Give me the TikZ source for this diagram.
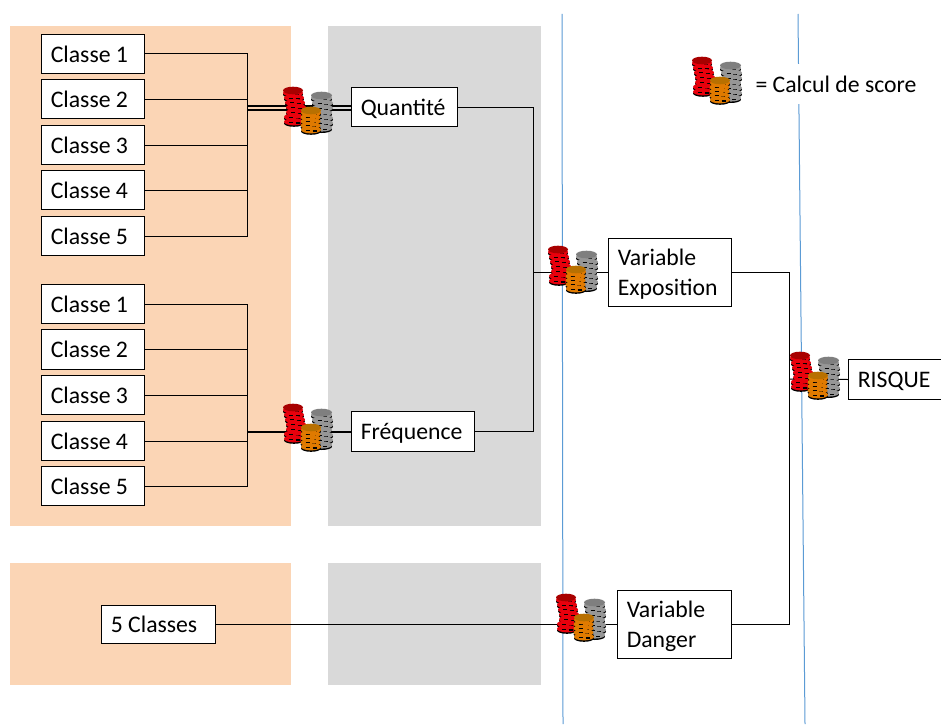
\documentclass[tikz,border=0pt]{standalone}
\usepackage{fontspec}
\setmainfont{Carlito}
\definecolor{peach}{HTML}{FBD5B5}
\definecolor{greybg}{HTML}{D9D9D9}
\definecolor{bluel}{HTML}{5B9BD5}
\definecolor{redc}{HTML}{E8000C}
\definecolor{redt}{HTML}{A80000}
\definecolor{greyc}{HTML}{969696}
\definecolor{greyt}{HTML}{7F7F7F}
\definecolor{orc}{HTML}{E07A00}
\definecolor{ort}{HTML}{B87000}
\newcommand{\coinstack}[8]{% x, y-top, half width, disc step, fill, top fill, jitter list, top jitter
  \foreach \jx [count=\ji from 0] in {#7}{
    \pgfmathsetmacro{\yy}{#2+3+\ji*#4}
    \pgfmathsetmacro{\xx}{#1+\jx+#3}
    \fill[black] (\xx,\yy+4.6) ellipse [x radius=#3,y radius=3.4];
    \fill[#5] (\xx,\yy+3) ellipse [x radius=#3,y radius=3.6];
    \draw[black,line width=0.8pt] (\xx-5,\yy+3.3) -- (\xx-1,\yy+3.3) (\xx+1.5,\yy+4.2) -- (\xx+5.5,\yy+4.2);
  }
  \fill[#6] ({#1+(#8)+#3},{#2+3.5}) ellipse [x radius=#3,y radius=3.8];
}
\tikzset{
  x=0.75pt,y=-0.75pt,
  coinpic/.pic={
    \coinstack{0}{0}{10}{4.8}{redc}{redt}{0,1,2,3,3,1,1}{0}
    \coinstack{28}{5}{10.5}{5}{greyc}{greyt}{0,1,1,0,1,1,0}{0}
    \coinstack{18}{20}{10}{4.2}{orc}{ort}{0,-0.5,-0.5,-0.5,0}{0}
  },
  box/.style={draw=black,line width=0.75pt,fill=white,inner sep=0pt},
  wire/.style={draw=black,line width=0.75pt},
  twin wire/.style={draw=black,line width=1pt},
  thick wire/.style={draw=black,line width=1.5pt},
  lbl/.style={font=\fontsize{17.8}{22.5}\selectfont,inner sep=0pt},
}
\newcommand{\pbox}[6]{% name x1 y1 x2 y2 text
  \node[box,minimum width={(#4-#2)*0.75pt},minimum height={(#5-#3)*0.75pt},anchor=north west] (#1) at (#2,#3) {};
  \node[lbl,anchor=west,align=left] (#1t) at (#2+9.5,{(#3+#5)/2+2.7}) {#6};
}
\begin{document}
\begin{tikzpicture}
\useasboundingbox (0,0) rectangle (941,724);
\fill[white] (0,0) rectangle (941,724);
\fill[peach] (10,26) rectangle (291,526);
\fill[peach] (10,563) rectangle (291,685);
\fill[greybg] (328,26) rectangle (541,526);
\fill[greybg] (328,563) rectangle (541,685);
\coordinate (b1t) at (562,14); \coordinate (b1b) at (563,724);
\coordinate (b2t) at (798,14); \coordinate (b2b) at (805,724);
\draw[bluel,line width=0.75pt] (b1t) -- (b1b);
\draw[bluel,line width=0.75pt] (b2t) -- (b2b);
% boxes
\pbox{a1}{41}{34}{144}{73}{\strut Classe 1}
\pbox{a2}{41}{79}{144}{118}{\strut Classe 2}
\pbox{a3}{41}{125}{144}{164}{\strut Classe 3}
\pbox{a4}{41}{170}{144}{209}{\strut Classe 4}
\pbox{a5}{41}{216}{144}{255}{\strut Classe 5}
\pbox{c1}{41}{284}{144}{323}{\strut Classe 1}
\pbox{c2}{41}{329}{144}{369}{\strut Classe 2}
\pbox{c3}{41}{375}{144}{414}{\strut Classe 3}
\pbox{c4}{41}{421}{144}{460}{\strut Classe 4}
\pbox{c5}{41}{466}{144}{505}{\strut Classe 5}
\pbox{quant}{351}{87}{457}{126}{\strut Quantité}
\pbox{freq}{351}{411}{474}{451}{\strut Fréquence}
\pbox{expo}{608}{238}{731}{306}{\strut Variable\\\strut Exposition}
\pbox{risk}{848}{359}{942}{399}{\strut RISQUE}
\pbox{dang}{617}{590}{731}{658}{\strut Variable\\\strut Danger}
\pbox{cinq}{101}{605}{215}{643}{\strut 5 Classes}
% buses
\coordinate (busA) at (247,145);
\coordinate (busC) at (247,394);
\draw[wire] (a1.east) -| (busA);
\draw[wire] (a2.east) -| (busA);
\draw[wire] (a3.east) -- (a3.east -| busA);
\draw[wire] (a4.east) -| (busA);
\draw[wire] (a5.east) -| (busA);
\draw[wire] (c1.east) -| (busC);
\draw[wire] (c2.east) -| (busC);
\draw[wire] (c3.east) -- (c3.east -| busC);
\draw[wire] (c4.east) -| (busC);
\draw[wire] (c5.east) -| (busC);
\coordinate (qa) at (247,106);
\coordinate (qb) at (247,110);
\draw[twin wire] (qa) -- (qa -| quant.west);
\draw[twin wire] (qb) -- (qb -| quant.west);
\coordinate (fa) at (247,431.5);
\draw[thick wire] (fa) -- (fa -| freq.west);
% right side
\coordinate (jq) at (533,272);
\draw[wire] (quant.east) -| (jq);
\draw[wire] (freq.east) -| (jq);
\draw[wire] (jq) -- (jq -| expo.west);
\coordinate (jr) at (789,379);
\draw[wire] (expo.east) -| (jr);
\draw[wire] (dang.east) -| (jr);
\draw[wire] (jr) -- (risk.west);
\draw[wire] (cinq.east) -- (dang.west);
% coins
\pic at (283,87) {coinpic};
\pic at (283,404) {coinpic};
\pic at (548,246) {coinpic};
\pic at (556,594) {coinpic};
\pic at (790,352) {coinpic};
\pic at (692,57) {coinpic};
\node[fill=white,inner sep=0pt,minimum height=39*0.75pt,minimum width=170*0.75pt,font=\fontsize{17.8}{22}\selectfont] (legend) at (836,84) {= Calcul de score};
\end{tikzpicture}
\end{document}
